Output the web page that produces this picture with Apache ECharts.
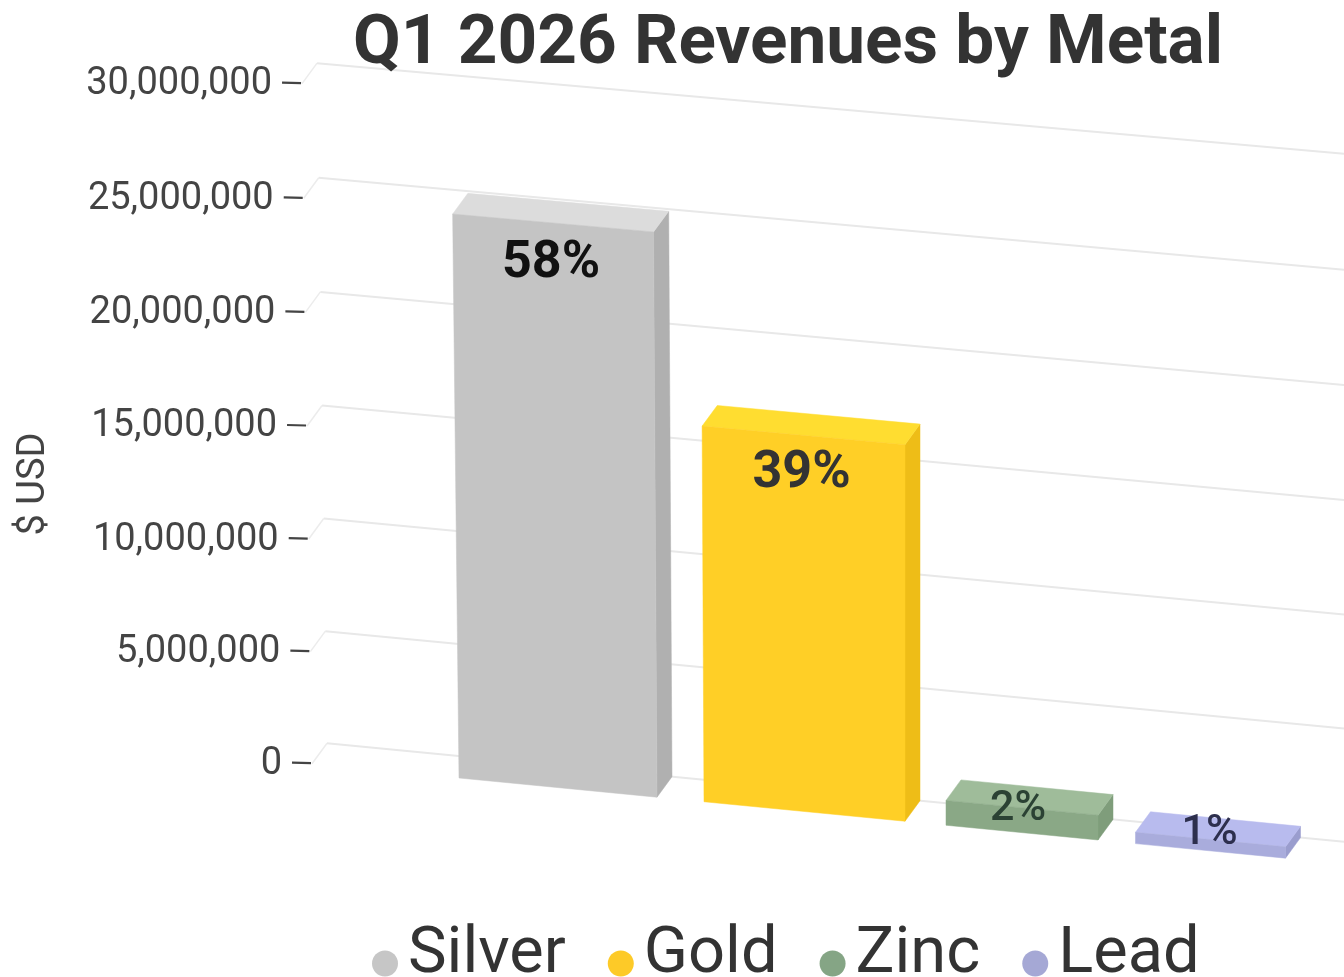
<!DOCTYPE html>
<html><head><meta charset="utf-8">
<style>html,body{margin:0;padding:0;background:#fff}#c{width:1344px;height:977px}</style>
<script src="https://cdn.jsdelivr.net/npm/echarts@6/dist/echarts.min.js"></script>
</head><body><div id="c"></div>
<script>
const metals = ['Silver', 'Gold', 'Zinc', 'Lead'];
const revenues = [24900000, 16600000, 1100000, 500000];
const shareLabels = ['58%', '39%', '2%', '1%'];
const yTicks = [0, 5000000, 10000000, 15000000, 20000000, 25000000, 30000000];
const yTickLabels = ['0', '5,000,000', '10,000,000', '15,000,000', '20,000,000', '25,000,000', '30,000,000'];

// styles
const FONT = 'Roboto';
const faces = [
  {front: '#c4c4c4', side: '#b0b0b0', top: '#dcdcdc', legend: '#c6c6c6', label: '#111111', size: 52, weight: 700, dy: 41, dx: -2},
  {front: '#ffcf26', side: '#eebd17', top: '#ffdd30', legend: '#fdca28', label: '#333333', size: 52, weight: 700, dy: 39, dx: -2},
  {front: '#8aa886', side: '#7f9d7b', top: '#9fbc9a', legend: '#85a585', label: '#2b4234', size: 43, weight: 500, dy: 1, dx: -4},
  {front: '#a9acdc', side: '#9a9dce', top: '#b8bbee', legend: '#a5a8d5', label: '#2d2f4d', size: 43, weight: 500, dy: -6, dx: -1}
];
const frontWidths = [198, 201, 152, 150];

// projection of the chart's flat plane into the tilted 3-D view
const BASE_Y = 743, DEPTH_X = 15, DEPTH_Y = 22, ORIGIN_X = 325;
function project(x, y, z) {
  const t = (BASE_Y - y) / 680;
  const bow = 2.3 * 4 * t * (1 - t);
  const yy = y + bow;
  const h = BASE_Y - yy;
  const slope = 0.097 - 0.008 * t;
  const X = x + z * DEPTH_X;
  const k = Math.max(0, 0.0147 * (900 - X) / 575);
  return [X - k * h, yy + slope * (X - ORIGIN_X) + DEPTH_Y * (1 - z)];
}
function bandCentre(px, band, left) {
  const t = (px - left) / band - 0.5;
  return 558 + 246.5 * t - 14.5 * t * (t - 1);
}

function renderBar(params, api) {
  const i = api.value(0);
  const f = faces[i];
  const cs = params.coordSys;
  const topPt = api.coord([i, api.value(1)]);
  const basePt = api.coord([i, 0]);
  const c = bandCentre(topPt[0], cs.width / metals.length, cs.x);
  const w = frontWidths[i];
  const xl = c - w / 2, xr = c + w / 2;
  const yt = topPt[1], yb = basePt[1];
  const fTL = project(xl, yt, 0), fTR = project(xr, yt, 0), fBL = project(xl, yb, 0), fBR = project(xr, yb, 0);
  const bTL = project(xl, yt, 1), bTR = project(xr, yt, 1), bBR = project(xr, yb, 1);
  const poly = (pts, color) => ({type: 'polygon', shape: {points: pts}, style: {fill: color, stroke: color, lineWidth: 0.5}});
  const lx = (fTL[0] + fTR[0]) / 2 + f.dx, ly = (fTL[1] + fTR[1]) / 2 + f.dy;
  return {type: 'group', children: [
    poly([fTR, bTR, bBR, fBR], f.side),
    poly([fTL, fTR, bTR, bTL], f.top),
    poly([fTL, fTR, fBR, fBL], f.front),
    {type: 'text', z2: 10, style: {x: lx, y: ly, text: shareLabels[i], fill: f.label,
      font: f.weight + ' ' + f.size + 'px ' + FONT, textAlign: 'center', textVerticalAlign: 'middle'}}
  ]};
}

function renderAxisRow(params, api) {
  const cs = params.coordSys;
  const y = api.coord([0, api.value(1)])[1];
  const back = project(cs.x + 2, y, 0);
  const wall = [back[0], back[1] - DEPTH_Y];
  const front = [wall[0] - DEPTH_X, wall[1] + DEPTH_Y - 1.5];
  const end = project(cs.x + cs.width, y, 0);
  const far = [end[0], end[1] - DEPTH_Y];
  const line = (a, b, color, lw) => ({type: 'line', shape: {x1: a[0], y1: a[1], x2: b[0], y2: b[1]}, style: {stroke: color, lineWidth: lw}});
  return {type: 'group', children: [
    line(front, wall, '#ececec', 1.5),
    line(wall, far, '#e8e8e8', 2),
    line([front[0] - 20, front[1] - 1], [front[0] - 1, front[1] - 0.5], '#444444', 2.2),
    {type: 'text', style: {x: front[0] - 30, y: front[1] + 1, text: yTickLabels[params.dataIndex], fill: '#444444',
      font: '400 38px ' + FONT, textAlign: 'right', textVerticalAlign: 'middle'}}
  ]};
}

const series = [{
  type: 'custom', name: 'axis', silent: true, clip: false, renderItem: renderAxisRow,
  data: yTicks.map(v => [0, v]), encode: {x: 0, y: 1}, z: 1
}].concat(metals.map((m, i) => ({
  type: 'custom', name: m, clip: false, renderItem: renderBar,
  itemStyle: {color: faces[i].legend},
  data: [[i, revenues[i]]], encode: {x: 0, y: 1}, z: 2 + i
})));

const chart = echarts.init(document.getElementById('c'), null, {renderer: 'canvas'});
chart.setOption({
  animation: false,
  backgroundColor: '#ffffff',
  title: {text: 'Q1 2026 Revenues by Metal', left: 788, top: 11, padding: 0, textAlign: 'center',
    textStyle: {fontFamily: FONT, fontSize: 69.3, fontWeight: 700, color: '#333333'}},
  grid: {left: 325, top: 63, width: 1019, height: 680},
  xAxis: {type: 'category', data: metals, show: false},
  yAxis: {type: 'value', min: 0, max: 30000000, interval: 5000000, show: false},
  legend: {data: metals, left: 372, top: 923, padding: 0, icon: 'circle', itemWidth: 26, itemHeight: 26, itemGap: 42,
    formatter: name => '{t|' + name + '}',
    textStyle: {rich: {t: {fontFamily: FONT, fontSize: 65, color: '#333333', padding: [0, 0, 16, 5]}}}},
  graphic: [{type: 'text', rotation: Math.PI / 2, x: 34, y: 484,
    style: {text: '$ USD', fill: '#444444', font: '400 38px ' + FONT, textAlign: 'center', textVerticalAlign: 'middle'}}],
  series: series
});
</script></body></html>
